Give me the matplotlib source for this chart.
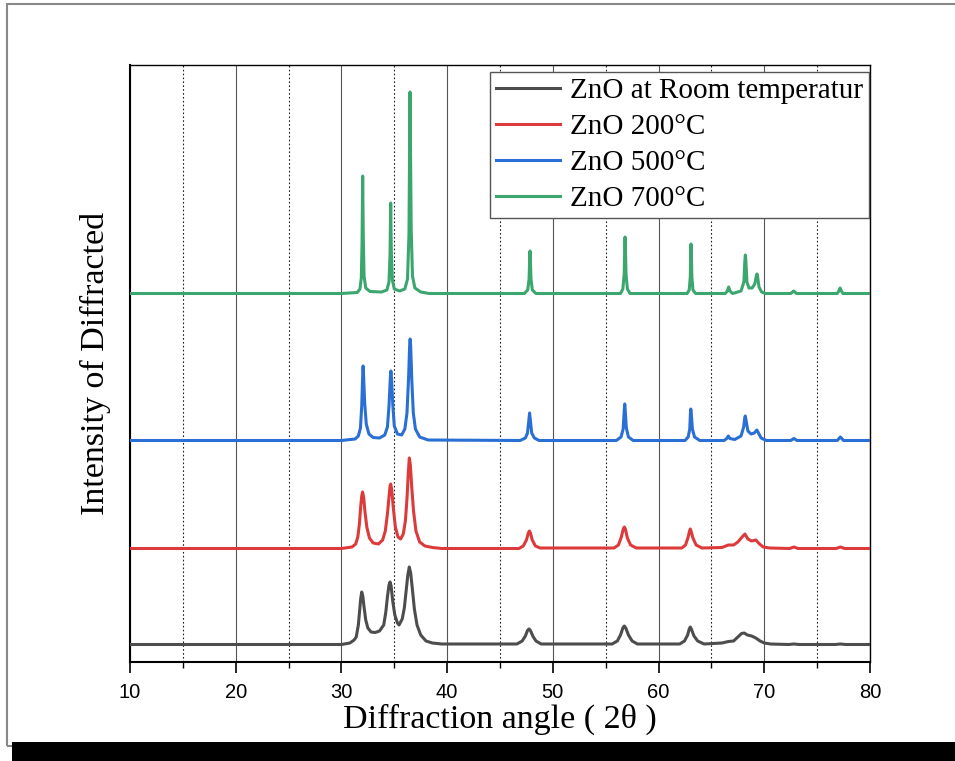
import matplotlib
matplotlib.use("Agg")
import matplotlib.pyplot as plt
from matplotlib.patches import Rectangle
from matplotlib.ticker import MultipleLocator

# XRD patterns of ZnO (2theta in degrees, intensity in a.u.)
labels = ["ZnO at Room temperatur", "ZnO 200°C", "ZnO 500°C", "ZnO 700°C"]
colors = ["#4d4d4d", "#dd3b3b", "#2a6fd4", "#3ba66d"]
offsets = [17, 113, 221, 368]

tth_rt = [30.0, 30.8, 31.2, 31.4, 31.6, 31.72, 31.82, 31.92, 32.02, 32.14, 32.3, 32.5,
          32.8, 33.2, 33.6, 34.0, 34.2, 34.35, 34.5, 34.6, 34.7, 34.85, 35.05, 35.3,
          35.45, 35.75, 35.95, 36.12, 36.28, 36.42, 36.55, 36.72, 36.9, 37.15, 37.5, 38.0,
          38.6, 39.5, 46.6, 47.1, 47.4, 47.6, 47.74, 47.88, 48.1, 48.4, 48.9, 55.6,
          56.1, 56.4, 56.62, 56.76, 56.9, 57.15, 57.5, 58.0, 62.0, 62.45, 62.75, 62.9,
          63.0, 63.1, 63.35, 63.7, 64.3, 66.0, 66.6, 67.1, 67.5, 67.85, 68.1, 68.4,
          68.8, 69.2, 69.6, 70.0, 70.6, 72.3, 72.8, 73.3, 76.7, 77.2, 77.7]
int_rt = [0.5, 2, 5, 8, 20, 34, 46, 53, 49, 38, 25, 17,
          13, 12.5, 14, 20, 33, 48, 60, 63, 59, 44, 30, 22,
          20, 26, 37, 54, 70, 78, 72, 55, 36, 20, 10, 4,
          2, 1, 1, 4, 9, 14.5, 16, 14.5, 9, 4, 1, 1,
          4, 10, 17, 19, 17, 10, 4, 1, 1, 4, 10, 16,
          18, 16, 9, 4, 1, 2, 3.5, 4, 8, 11.5, 12, 10,
          9, 7, 4, 2, 1, 0.5, 1, 0.5, 0.5, 1, 0.5]

tth_200 = [30.0, 31.0, 31.35, 31.55, 31.7, 31.82, 31.92, 32.0, 32.1, 32.22, 32.4, 32.65,
           33.0, 33.5, 33.9, 34.15, 34.35, 34.5, 34.6, 34.66, 34.75, 34.9, 35.1, 35.35,
           35.6, 35.85, 36.05, 36.2, 36.32, 36.42, 36.52, 36.65, 36.82, 37.05, 37.4, 37.9,
           38.6, 39.5, 46.8, 47.2, 47.5, 47.68, 47.78, 47.88, 48.05, 48.35, 48.8, 55.8,
           56.2, 56.48, 56.66, 56.76, 56.86, 57.05, 57.35, 57.9, 62.2, 62.55, 62.8, 62.93,
           63.0, 63.07, 63.25, 63.55, 64.1, 66.0, 66.6, 67.1, 67.5, 67.9, 68.17, 68.45,
           68.8, 69.2, 69.55, 69.9, 70.5, 72.4, 72.8, 73.2, 76.8, 77.2, 77.6]
int_200 = [0.5, 2, 5, 12, 25, 42, 53, 57, 52, 38, 22, 11,
           6, 5, 9, 18, 35, 52, 63, 65, 60, 42, 22, 12,
           10, 15, 28, 50, 75, 91, 84, 62, 38, 18, 7, 3,
           1.5, 0.5, 0.5, 3, 9, 16, 18, 16, 9, 3, 1, 1,
           4, 12, 20, 22, 20, 11, 4, 1, 1, 4, 12, 18,
           20, 18, 11, 4, 1, 1.5, 4, 4, 7, 12, 15, 10,
           8, 9, 5, 2, 1, 0.5, 2, 0.5, 0.5, 2, 0.5]

tth_500 = [30.0, 31.3, 31.6, 31.8, 31.92, 32.0, 32.05, 32.1, 32.2, 32.35, 32.6, 33.0,
           33.6, 34.1, 34.35, 34.5, 34.62, 34.68, 34.74, 34.86, 35.0, 35.3, 35.7, 36.0,
           36.2, 36.36, 36.45, 36.5, 36.55, 36.66, 36.8, 37.0, 37.4, 38.2, 46.9, 47.4,
           47.6, 47.72, 47.8, 47.88, 48.0, 48.25, 48.7, 56.0, 56.45, 56.65, 56.75, 56.8,
           56.85, 56.95, 57.15, 57.6, 62.5, 62.8, 62.95, 63.01, 63.05, 63.1, 63.2, 63.4,
           63.9, 66.2, 66.45, 66.6, 66.75, 67.2, 67.8, 68.05, 68.15, 68.2, 68.27, 68.45,
           68.75, 69.05, 69.3, 69.45, 69.7, 70.2, 72.5, 72.8, 73.1, 76.9, 77.2, 77.5]
int_500 = [0.5, 2, 5, 13, 35, 62, 75, 64, 38, 17, 7, 3.5,
           3, 6, 14, 35, 62, 70, 62, 36, 15, 7, 6, 12,
           28, 65, 95, 102, 95, 60, 28, 12, 4, 1, 0.5, 3,
           8, 20, 28, 20, 8, 3, 0.5, 0.5, 4, 12, 30, 37,
           30, 13, 4, 0.5, 0.5, 4, 12, 27, 32, 27, 12, 4,
           0.5, 0.5, 2.5, 5, 2.5, 1.5, 5, 14, 23, 25, 21, 10,
           7, 8, 11, 8, 3, 0.5, 0.5, 2.5, 0.5, 0.5, 4, 0.5]

tth_700 = [30.0, 31.5, 31.75, 31.88, 31.95, 32.01, 32.07, 32.14, 32.3, 32.7, 33.8, 34.3,
           34.5, 34.6, 34.66, 34.72, 34.82, 35.0, 35.5, 36.0, 36.25, 36.39, 36.45, 36.49,
           36.53, 36.6, 36.72, 36.95, 37.5, 38.3, 47.3, 47.62, 47.75, 47.81, 47.84, 47.87,
           47.93, 48.06, 48.4, 56.4, 56.62, 56.75, 56.8, 56.83, 56.86, 56.92, 57.05, 57.3,
           62.7, 62.9, 63.0, 63.04, 63.07, 63.1, 63.15, 63.25, 63.5, 66.3, 66.5, 66.63,
           66.76, 67.0, 67.8, 68.07, 68.16, 68.21, 68.26, 68.36, 68.55, 68.85, 69.1, 69.25,
           69.31, 69.37, 69.5, 69.75, 70.1, 72.5, 72.68, 72.78, 72.88, 73.05, 76.9, 77.05,
           77.17, 77.29, 77.45]
int_700 = [0.5, 1.5, 5, 16, 50, 118, 55, 18, 6, 2.5, 2, 4,
           12, 40, 91, 42, 14, 5, 3, 5, 15, 60, 150, 202,
           150, 65, 18, 6, 2, 0.5, 0.5, 4, 15, 36, 43, 36,
           15, 4, 0.5, 0.5, 5, 20, 48, 57, 48, 20, 5, 0.5,
           0.5, 4, 17, 42, 50, 42, 17, 4, 0.5, 0.5, 3, 7,
           3, 0.5, 3, 12, 33, 39, 33, 12, 6, 6, 10, 18,
           20, 17, 7, 2, 0.5, 0.5, 2, 3, 2, 0.5, 0.5, 3,
           6, 3, 0.5]

patterns = [(tth_rt, int_rt), (tth_200, int_200), (tth_500, int_500), (tth_700, int_700)]

plt.rcParams['font.family'] = ['Liberation Serif', 'DejaVu Serif']

fig = plt.figure(figsize=(9.55, 7.61), dpi=100)
ax = fig.add_axes([130 / 955, 99 / 761, 740 / 955, 597 / 761])

for (tth, inten), off, col, lab in zip(patterns, offsets, colors, labels):
    # flat background at both ends of the scan
    xs = [10] + tth + [80]
    ys = [off + 0.5] + [v + off for v in inten] + [off + 0.5]
    ax.plot(xs, ys, color=col, lw=2.2, label=lab, zorder=3, solid_joinstyle='round')

ax.set_xlim(10, 80)
ax.set_ylim(0, 597)
ax.xaxis.set_major_locator(MultipleLocator(10))
ax.xaxis.set_minor_locator(MultipleLocator(5))
ax.set_yticks([])

ax.grid(True, which='major', axis='x', color='#555555', lw=0.8, ls='-')
ax.grid(True, which='minor', axis='x', color='#222222', lw=0.8, ls=(0, (1.5, 2)))
ax.set_axisbelow(True)

ax.tick_params(axis='x', which='major', direction='out', length=8, width=1.2, pad=7,
               labelsize=14.5, labelfontfamily='Liberation Sans')
ax.tick_params(axis='x', which='minor', direction='out', length=4, width=1.0)
for s in ['left', 'bottom']:
    ax.spines[s].set_linewidth(1.5)
for s in ['top', 'right']:
    ax.spines[s].set_linewidth(1.0)

ax.set_xlabel("Diffraction angle ( 2θ )", fontsize=24.5, labelpad=1)
ax.set_ylabel("Intensity of Diffracted", fontsize=24.5, labelpad=14)

leg = ax.legend(loc='upper left', bbox_to_anchor=(490 / 955, 1 - 72 / 761),
                bbox_transform=fig.transFigure, fontsize=21, frameon=True, fancybox=False,
                framealpha=1, edgecolor='#555555', borderpad=0.2, borderaxespad=0,
                handlelength=2.2, handletextpad=0.35, labelspacing=0.33)
leg.get_frame().set_linewidth(1.0)
leg.set_zorder(5)

# outer picture frame and the black strip at the bottom
fig.patches.append(Rectangle((7 / 955, 1 - 746 / 761), 1.0, 742 / 761, transform=fig.transFigure,
                             fill=False, edgecolor='#888888', lw=1.5, zorder=0))
fig.patches.append(Rectangle((12 / 955, 0), 1.0, 19 / 761, transform=fig.transFigure,
                             facecolor='black', edgecolor='none', zorder=0))

fig.savefig("out.png", dpi=100)
